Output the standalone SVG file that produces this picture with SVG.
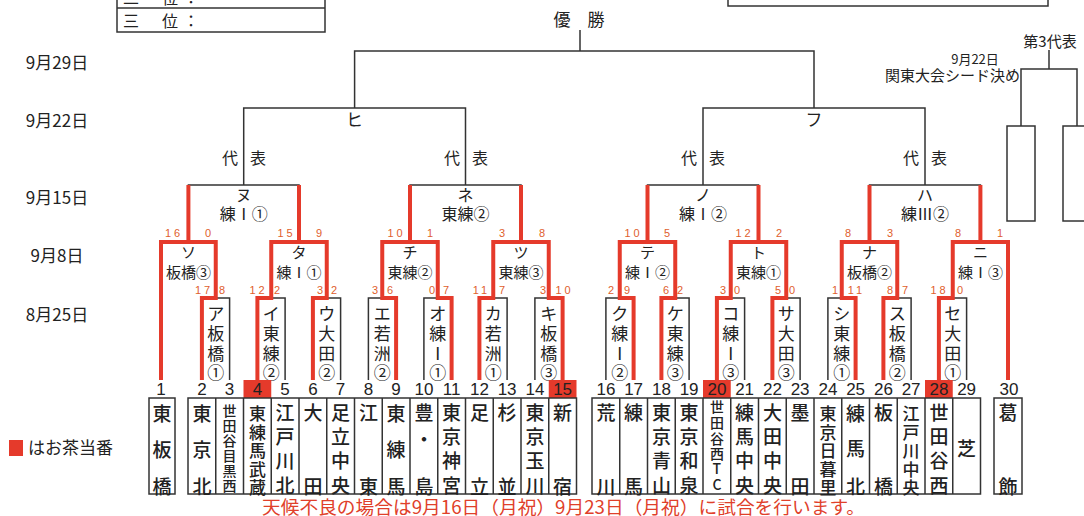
<svg xmlns="http://www.w3.org/2000/svg" width="1084" height="516" viewBox="0 0 1084 516">
<style>
.ln{stroke:#333;stroke-width:1.5;fill:none}
.rd{stroke:#e53a2b;stroke-width:4;fill:none;stroke-linejoin:miter}
.jp{font-family:"Noto Sans CJK JP","Noto Sans",sans-serif;fill:#222}
.c{text-anchor:middle;dominant-baseline:central}
.nm{font-size:19px;font-weight:500}
.n5{font-size:17px;font-weight:500}
.n6{font-size:14px;font-weight:500}
.num{font-family:"Liberation Sans",Arial,sans-serif;font-size:17px;text-anchor:middle;fill:#222}
.sc{font-family:"Liberation Sans",Arial,sans-serif;font-size:11px;fill:#e0602d;text-anchor:middle;dominant-baseline:central;letter-spacing:3px}
.r1{font-size:17px}
.r2{font-size:15px}
.r3{font-size:16px}
.dt{font-size:17px}
</style>

<g id="header">
<rect class="ln" x="117" y="-20" width="208" height="52"/>
<line class="ln" x1="117" y1="8" x2="325" y2="8"/>
<text class="jp" font-size="16" y="4"><tspan x="123">二</tspan><tspan x="162">位</tspan><tspan x="183">：</tspan></text>
<text class="jp" font-size="16" y="27"><tspan x="123">三</tspan><tspan x="162">位</tspan><tspan x="183">：</tspan></text>
<rect class="ln" x="728" y="-20" width="320" height="26"/>
<text class="jp c" font-size="17" x="579" y="18">優　勝</text>
</g>

<g id="dates" class="jp">
<text class="c dt" x="57" y="61">9月29日</text>
<text class="c dt" x="57" y="119">9月22日</text>
<text class="c dt" x="57" y="196">9月15日</text>
<text class="c dt" x="57" y="254">9月8日</text>
<text class="c dt" x="57" y="313">8月25日</text>
</g>

<g id="legend">
<rect x="9" y="440" width="14" height="16" fill="#e53a2b"/>
<text class="jp" font-size="17" x="28" y="454">はお茶当番</text>
</g>

<g id="connectors">
<path class="ln" d="M580,30 V51 M354.6,108 V51 H814 V108"/>
<path class="ln" d="M243.7,185 V108 H465.5 V185 M703,185 V108 H925 V185"/>
<path class="ln" d="M188.4,242 V185 H299 V242 M410,242 V185 H521 V242 M647.5,242 V185 H758.5 V242 M869.5,242 V185 H980.4 V242"/>
<path class="ln" d="M161,380 V242 H215.75 V298 M271.25,298 V242 H326.75 V298 M382.25,298 V242 H437.75 V298 M493.25,298 V242 H548.75 V298 M619.75,298 V242 H675.25 V298 M730.75,298 V242 H786.25 V298 M841.75,298 V242 H897.25 V298 M952.75,298 V242 H1008 V380"/>
<path class="ln" d="M201.9,380 V298 H229.6 V380 M257.4,380 V298 H285.1 V380 M312.9,380 V298 H340.6 V380 M368.4,380 V298 H396.1 V380 M423.9,380 V298 H451.6 V380 M479.4,380 V298 H507.1 V380 M534.9,380 V298 H562.6 V380 M605.9,380 V298 H633.6 V380 M661.4,380 V298 H689.1 V380 M716.9,380 V298 H744.6 V380 M772.4,380 V298 H800.1 V380 M827.9,380 V298 H855.6 V380 M883.4,380 V298 H911.1 V380 M938.9,380 V298 H966.6 V380"/>
<path class="rd" d="M161,380 V242 H188.4 V185"/>
<path class="rd" d="M201.9,380 V298 H215.75 V242 H188.4"/>
<path class="rd" d="M257.4,380 V298 H271.25 V242 H299 V185"/>
<path class="rd" d="M312.9,380 V298 H326.75 V242 H299"/>
<path class="rd" d="M396.1,380 V298 H382.25 V242 H410 V185"/>
<path class="rd" d="M451.6,380 V298 H437.75 V242 H410"/>
<path class="rd" d="M479.4,380 V298 H493.25 V242 H521"/>
<path class="rd" d="M562.6,380 V298 H548.75 V242 H521 V185"/>
<path class="rd" d="M633.6,380 V298 H619.75 V242 H647.5 V185"/>
<path class="rd" d="M661.4,380 V298 H675.25 V242 H647.5"/>
<path class="rd" d="M716.9,380 V298 H730.75 V242 H758.5 V185"/>
<path class="rd" d="M772.4,380 V298 H786.25 V242 H758.5"/>
<path class="rd" d="M855.6,380 V298 H841.75 V242 H869.5 V185"/>
<path class="rd" d="M883.4,380 V298 H897.25 V242 H869.5"/>
<path class="rd" d="M938.9,380 V298 H952.75 V242 H980.4 V185"/>
<path class="rd" d="M1008,380 V242 H980.4"/>
<path class="ln" d="M1049,50 V69 M1021,126 V69 H1077 V126"/>
<rect class="ln" x="1007" y="126" width="28" height="95"/>
<rect class="ln" x="1063" y="126" width="28" height="95"/>
</g>

<g id="seed">
<text class="jp c" font-size="15" x="1050" y="40">第3代表</text>
<text class="jp c" font-size="13" x="975" y="58">9月22日</text>
<text class="jp" font-size="15" x="1020" y="81" text-anchor="end">関東大会シード決め</text>
</g>

<g id="final-labels" class="jp">
<text class="c" font-size="17" x="354.6" y="118">ヒ</text>
<text class="c" font-size="17" x="814" y="118">フ</text>
<text class="c" font-size="16" x="230" y="157">代</text><text class="c" font-size="16" x="258" y="157">表</text>
<text class="c" font-size="16" x="452" y="157">代</text><text class="c" font-size="16" x="480" y="157">表</text>
<text class="c" font-size="16" x="689" y="157">代</text><text class="c" font-size="16" x="717" y="157">表</text>
<text class="c" font-size="16" x="911" y="157">代</text><text class="c" font-size="16" x="939" y="157">表</text>
</g>

<g id="round3" class="jp">
<g id="nu"><text class="c r3" x="243.7" y="194">ヌ</text><text class="c r3" x="243.7" y="213">練Ⅰ①</text></g>
<g id="ne"><text class="c r3" x="465.5" y="194">ネ</text><text class="c r3" x="465.5" y="213">東練②</text></g>
<g id="no"><text class="c r3" x="703" y="194">ノ</text><text class="c r3" x="703" y="213">練Ⅰ②</text></g>
<g id="ha"><text class="c r3" x="925" y="194">ハ</text><text class="c r3" x="925" y="213">練Ⅲ②</text></g>
</g>

<g id="round2" class="jp">
<g id="so"><text class="c r2" x="188.4" y="251">ソ</text><text class="c r2" x="188.4" y="271">板橋③</text></g>
<g id="ta"><text class="c r2" x="299" y="251">タ</text><text class="c r2" x="299" y="271">練Ⅰ①</text></g>
<g id="chi"><text class="c r2" x="410" y="251">チ</text><text class="c r2" x="410" y="271">東練②</text></g>
<g id="tsu"><text class="c r2" x="521" y="251">ツ</text><text class="c r2" x="521" y="271">東練③</text></g>
<g id="te"><text class="c r2" x="647.5" y="251">テ</text><text class="c r2" x="647.5" y="271">練Ⅰ②</text></g>
<g id="to"><text class="c r2" x="758.5" y="251">ト</text><text class="c r2" x="758.5" y="271">東練①</text></g>
<g id="na"><text class="c r2" x="869.5" y="251">ナ</text><text class="c r2" x="869.5" y="271">板橋②</text></g>
<g id="ni"><text class="c r2" x="980.4" y="251">ニ</text><text class="c r2" x="980.4" y="271">練Ⅰ③</text></g>
</g>

<g id="round1" class="jp">
<text id="a" class="c r1"><tspan x="215.75" y="312">ア</tspan><tspan x="215.75" y="332">板</tspan><tspan x="215.75" y="352">橋</tspan><tspan x="215.75" y="371">①</tspan></text>
<text id="i" class="c r1"><tspan x="271.25" y="312">イ</tspan><tspan x="271.25" y="332">東</tspan><tspan x="271.25" y="352">練</tspan><tspan x="271.25" y="371">②</tspan></text>
<text id="u" class="c r1"><tspan x="326.75" y="312">ウ</tspan><tspan x="326.75" y="332">大</tspan><tspan x="326.75" y="352">田</tspan><tspan x="326.75" y="371">②</tspan></text>
<text id="e" class="c r1"><tspan x="382.25" y="312">エ</tspan><tspan x="382.25" y="332">若</tspan><tspan x="382.25" y="352">洲</tspan><tspan x="382.25" y="371">②</tspan></text>
<text id="o" class="c r1"><tspan x="437.75" y="312">オ</tspan><tspan x="437.75" y="332">練</tspan><tspan x="437.75" y="352">Ⅰ</tspan><tspan x="437.75" y="371">①</tspan></text>
<text id="ka" class="c r1"><tspan x="493.25" y="312">カ</tspan><tspan x="493.25" y="332">若</tspan><tspan x="493.25" y="352">洲</tspan><tspan x="493.25" y="371">①</tspan></text>
<text id="ki" class="c r1"><tspan x="548.75" y="312">キ</tspan><tspan x="548.75" y="332">板</tspan><tspan x="548.75" y="352">橋</tspan><tspan x="548.75" y="371">③</tspan></text>
<text id="ku" class="c r1"><tspan x="619.75" y="312">ク</tspan><tspan x="619.75" y="332">練</tspan><tspan x="619.75" y="352">Ⅰ</tspan><tspan x="619.75" y="371">②</tspan></text>
<text id="ke" class="c r1"><tspan x="675.25" y="312">ケ</tspan><tspan x="675.25" y="332">東</tspan><tspan x="675.25" y="352">練</tspan><tspan x="675.25" y="371">③</tspan></text>
<text id="ko" class="c r1"><tspan x="730.75" y="312">コ</tspan><tspan x="730.75" y="332">練</tspan><tspan x="730.75" y="352">Ⅰ</tspan><tspan x="730.75" y="371">③</tspan></text>
<text id="sa" class="c r1"><tspan x="786.25" y="312">サ</tspan><tspan x="786.25" y="332">大</tspan><tspan x="786.25" y="352">田</tspan><tspan x="786.25" y="371">③</tspan></text>
<text id="shi" class="c r1"><tspan x="841.75" y="312">シ</tspan><tspan x="841.75" y="332">東</tspan><tspan x="841.75" y="352">練</tspan><tspan x="841.75" y="371">①</tspan></text>
<text id="su" class="c r1"><tspan x="897.25" y="312">ス</tspan><tspan x="897.25" y="332">板</tspan><tspan x="897.25" y="352">橋</tspan><tspan x="897.25" y="371">②</tspan></text>
<text id="se" class="c r1"><tspan x="952.75" y="312">セ</tspan><tspan x="952.75" y="332">大</tspan><tspan x="952.75" y="352">田</tspan><tspan x="952.75" y="371">①</tspan></text>
</g>

<g id="scores">
<text class="sc" x="174" y="233">16</text><text class="sc" x="209.5" y="233">0</text>
<text class="sc" x="286.5" y="233">15</text><text class="sc" x="320.5" y="233">9</text>
<text class="sc" x="396.5" y="233">10</text><text class="sc" x="431.5" y="233">1</text>
<text class="sc" x="503.5" y="233">3</text><text class="sc" x="543.5" y="233">8</text>
<text class="sc" x="633.5" y="233">10</text><text class="sc" x="668.5" y="233">5</text>
<text class="sc" x="744.5" y="233">12</text><text class="sc" x="780.5" y="233">2</text>
<text class="sc" x="849.5" y="233">8</text><text class="sc" x="891.5" y="233">3</text>
<text class="sc" x="959.5" y="233">8</text><text class="sc" x="1001.5" y="233">1</text>
<text class="sc" x="204" y="290">17</text><text class="sc" x="223.5" y="290">8</text>
<text class="sc" x="258.5" y="290">12</text><text class="sc" x="278.5" y="290">2</text>
<text class="sc" x="321.5" y="290">3</text><text class="sc" x="335.5" y="290">2</text>
<text class="sc" x="376.5" y="290">3</text><text class="sc" x="391.5" y="290">6</text>
<text class="sc" x="433.5" y="290">0</text><text class="sc" x="447.5" y="290">7</text>
<text class="sc" x="481.5" y="290">11</text><text class="sc" x="503.5" y="290">7</text>
<text class="sc" x="544.5" y="290">3</text><text class="sc" x="564.5" y="290">10</text>
<text class="sc" x="612.5" y="290">2</text><text class="sc" x="628.5" y="290">9</text>
<text class="sc" x="667.5" y="290">6</text><text class="sc" x="681.5" y="290">2</text>
<text class="sc" x="724.5" y="290">3</text><text class="sc" x="738.5" y="290">0</text>
<text class="sc" x="779.5" y="290">5</text><text class="sc" x="793.5" y="290">0</text>
<text class="sc" x="836.5" y="290">1</text><text class="sc" x="856.5" y="290">11</text>
<text class="sc" x="891.5" y="290">8</text><text class="sc" x="906.5" y="290">7</text>
<text class="sc" x="939.5" y="290">18</text><text class="sc" x="961.5" y="290">0</text>
</g>

<g id="numbers">
<rect x="243.5" y="380" width="27.75" height="18" fill="#e53a2b"/>
<rect x="548.75" y="380" width="27.75" height="18" fill="#e53a2b"/>
<rect x="703" y="380" width="27.75" height="18" fill="#e53a2b"/>
<rect x="925" y="380" width="27.75" height="18" fill="#e53a2b"/>
<text class="num" y="395"><tspan x="161">1</tspan><tspan x="201.9">2</tspan><tspan x="229.6">3</tspan><tspan x="257.4">4</tspan><tspan x="285.1">5</tspan><tspan x="312.9">6</tspan><tspan x="340.6">7</tspan><tspan x="368.4">8</tspan><tspan x="396.1">9</tspan><tspan x="423.9">10</tspan><tspan x="451.6">11</tspan><tspan x="479.4">12</tspan><tspan x="507.1">13</tspan><tspan x="534.9">14</tspan><tspan x="562.6">15</tspan><tspan x="605.9">16</tspan><tspan x="633.6">17</tspan><tspan x="661.4">18</tspan><tspan x="689.1">19</tspan><tspan x="716.9">20</tspan><tspan x="744.6">21</tspan><tspan x="772.4">22</tspan><tspan x="800.1">23</tspan><tspan x="827.9">24</tspan><tspan x="855.6">25</tspan><tspan x="883.4">26</tspan><tspan x="911.1">27</tspan><tspan x="938.9">28</tspan><tspan x="966.6">29</tspan><tspan x="1009">30</tspan></text>
</g>

<g id="team-table">
<rect class="ln" x="149" y="398" width="26" height="96" fill="#fff"/>
<rect class="ln" x="188" y="398" width="388.5" height="96" fill="#fff"/>
<rect class="ln" x="592" y="398" width="388.5" height="96" fill="#fff"/>
<rect class="ln" x="994" y="398" width="28" height="96" fill="#fff"/>
<path class="ln" d="M215.75,398 V494 M243.5,398 V494 M271.25,398 V494 M299,398 V494 M326.75,398 V494 M354.5,398 V494 M382.25,398 V494 M410,398 V494 M437.75,398 V494 M465.5,398 V494 M493.25,398 V494 M521,398 V494 M548.75,398 V494 M619.75,398 V494 M647.5,398 V494 M675.25,398 V494 M703,398 V494 M730.75,398 V494 M758.5,398 V494 M786.25,398 V494 M814,398 V494 M841.75,398 V494 M869.5,398 V494 M897.25,398 V494 M925,398 V494 M952.75,398 V494"/>
</g>

<g id="teams" class="jp">
<text id="t1" class="c nm"><tspan x="162" y="412">東</tspan><tspan x="162" y="448">板</tspan><tspan x="162" y="485">橋</tspan></text>
<text id="t2" class="c nm"><tspan x="201.9" y="412">東</tspan><tspan x="201.9" y="448">京</tspan><tspan x="201.9" y="485">北</tspan></text>
<text id="t3" class="c n6"><tspan x="229.6" y="410">世</tspan><tspan x="229.6" y="425">田</tspan><tspan x="229.6" y="440">谷</tspan><tspan x="229.6" y="455">目</tspan><tspan x="229.6" y="470">黒</tspan><tspan x="229.6" y="485">西</tspan></text>
<text id="t4" class="c n5"><tspan x="257.4" y="412">東</tspan><tspan x="257.4" y="430.5">練</tspan><tspan x="257.4" y="449">馬</tspan><tspan x="257.4" y="467.5">武</tspan><tspan x="257.4" y="486">蔵</tspan></text>
<text id="t5" class="c nm"><tspan x="285.1" y="411">江</tspan><tspan x="285.1" y="435">戸</tspan><tspan x="285.1" y="459">川</tspan><tspan x="285.1" y="484">北</tspan></text>
<text id="t6" class="c nm"><tspan x="312.9" y="411">大</tspan><tspan x="312.9" y="485">田</tspan></text>
<text id="t7" class="c nm"><tspan x="340.6" y="411">足</tspan><tspan x="340.6" y="435">立</tspan><tspan x="340.6" y="459">中</tspan><tspan x="340.6" y="484">央</tspan></text>
<text id="t8" class="c nm"><tspan x="368.4" y="411">江</tspan><tspan x="368.4" y="485">東</tspan></text>
<text id="t9" class="c nm"><tspan x="396.1" y="412">東</tspan><tspan x="396.1" y="448">練</tspan><tspan x="396.1" y="485">馬</tspan></text>
<text id="t10" class="c nm"><tspan x="423.9" y="411">豊</tspan><tspan x="423.9" y="438">・</tspan><tspan x="423.9" y="485">島</tspan></text>
<text id="t11" class="c nm"><tspan x="451.6" y="411">東</tspan><tspan x="451.6" y="435">京</tspan><tspan x="451.6" y="459">神</tspan><tspan x="451.6" y="484">宮</tspan></text>
<text id="t12" class="c nm"><tspan x="479.4" y="411">足</tspan><tspan x="479.4" y="485">立</tspan></text>
<text id="t13" class="c nm"><tspan x="507.1" y="411">杉</tspan><tspan x="507.1" y="485">並</tspan></text>
<text id="t14" class="c nm"><tspan x="534.9" y="411">東</tspan><tspan x="534.9" y="435">京</tspan><tspan x="534.9" y="459">玉</tspan><tspan x="534.9" y="484">川</tspan></text>
<text id="t15" class="c nm"><tspan x="562.6" y="411">新</tspan><tspan x="562.6" y="485">宿</tspan></text>
<text id="t16" class="c nm"><tspan x="605.9" y="411">荒</tspan><tspan x="605.9" y="485">川</tspan></text>
<text id="t17" class="c nm"><tspan x="633.6" y="411">練</tspan><tspan x="633.6" y="485">馬</tspan></text>
<text id="t18" class="c nm"><tspan x="661.4" y="411">東</tspan><tspan x="661.4" y="435">京</tspan><tspan x="661.4" y="459">青</tspan><tspan x="661.4" y="484">山</tspan></text>
<text id="t19" class="c nm"><tspan x="689.1" y="411">東</tspan><tspan x="689.1" y="435">京</tspan><tspan x="689.1" y="459">和</tspan><tspan x="689.1" y="484">泉</tspan></text>
<text id="t20" class="c n6"><tspan x="716.9" y="406">世</tspan><tspan x="716.9" y="422">田</tspan><tspan x="716.9" y="438">谷</tspan><tspan x="716.9" y="453">西</tspan><tspan x="716.9" y="468">T</tspan><tspan x="716.9" y="484">C</tspan></text>
<text id="t21" class="c nm"><tspan x="744.6" y="411">練</tspan><tspan x="744.6" y="435">馬</tspan><tspan x="744.6" y="459">中</tspan><tspan x="744.6" y="484">央</tspan></text>
<text id="t22" class="c nm"><tspan x="772.4" y="411">大</tspan><tspan x="772.4" y="435">田</tspan><tspan x="772.4" y="459">中</tspan><tspan x="772.4" y="484">央</tspan></text>
<text id="t23" class="c nm"><tspan x="800.1" y="411">墨</tspan><tspan x="800.1" y="485">田</tspan></text>
<text id="t24" class="c n5"><tspan x="827.9" y="412">東</tspan><tspan x="827.9" y="430.5">京</tspan><tspan x="827.9" y="449">日</tspan><tspan x="827.9" y="467.5">暮</tspan><tspan x="827.9" y="486">里</tspan></text>
<text id="t25" class="c nm"><tspan x="855.6" y="412">練</tspan><tspan x="855.6" y="447">馬</tspan><tspan x="855.6" y="485">北</tspan></text>
<text id="t26" class="c nm"><tspan x="883.4" y="411">板</tspan><tspan x="883.4" y="485">橋</tspan></text>
<text id="t27" class="c n5"><tspan x="911.1" y="412">江</tspan><tspan x="911.1" y="430.5">戸</tspan><tspan x="911.1" y="449">川</tspan><tspan x="911.1" y="467.5">中</tspan><tspan x="911.1" y="486">央</tspan></text>
<text id="t28" class="c nm"><tspan x="938.9" y="411">世</tspan><tspan x="938.9" y="435">田</tspan><tspan x="938.9" y="459">谷</tspan><tspan x="938.9" y="484">西</tspan></text>
<text id="t29" class="c nm"><tspan x="966.6" y="447">芝</tspan></text>
<text id="t30" class="c nm"><tspan x="1008" y="411">葛</tspan><tspan x="1008" y="485">飾</tspan></text>
</g>

<g id="footer">
<text class="jp" font-size="18" x="262" y="514" style="fill:#e0402a" textLength="603" lengthAdjust="spacingAndGlyphs">天候不良の場合は9月16日（月祝）9月23日（月祝）に試合を行います。</text>
</g>
</svg>
